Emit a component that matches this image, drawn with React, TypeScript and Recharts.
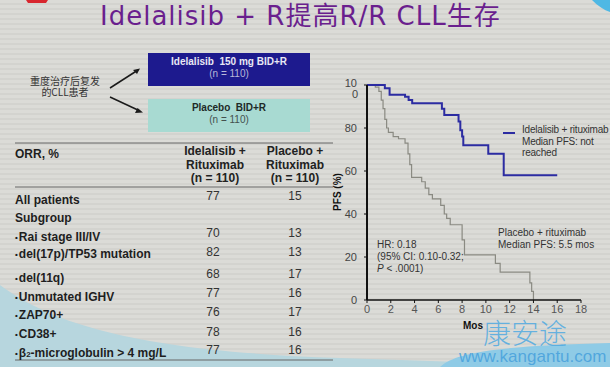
import { LineChart, Line, XAxis, YAxis } from 'recharts'

// Kaplan-Meier PFS
const monthTicks = [0, 2, 4, 6, 8, 10, 12, 14, 16, 18]
const pfsTicks = [0, 20, 40, 60, 80, 100]

const idelaMonths = [0, 1.5, 1.9, 3.2, 3.5, 3.8, 6.3, 6.5, 7.7, 7.85, 8.0, 8.1, 10.2, 11.5, 16]
const idelaPfs = [100, 98.5, 95.5, 94.5, 93, 91.5, 89, 86, 83, 79, 76, 72, 68, 58, 58]

const placeboMonths = [
  0, 0.7, 1.0, 1.2, 1.35, 1.5, 1.65, 1.8, 2.2, 2.65, 3.2, 3.45, 3.6, 3.75, 4.6, 4.9, 5.2, 5.5,
  6.2, 6.5, 6.7, 7.0, 8.0, 8.2, 10.8, 11.2, 13.7, 13.85, 14.0,
]
const placeboPfs = [
  100, 99, 97, 93, 89, 84, 80, 78, 76, 75, 73, 68, 63, 57, 55, 52, 49, 47,
  44, 40, 38, 35, 28, 21, 17, 13, 8, 4, 0,
]

// ORR table
const orrLabels = [
  'All patients',
  'Subgroup',
  'Rai stage III/IV',
  'del(17p)/TP53 mutation',
  'del(11q)',
  'Unmutated IGHV',
  'ZAP70+',
  'CD38+',
  'beta2',
]
const orrIdela = ['77', '', '70', '82', '68', '77', '76', '78', '77']
const orrPlacebo = ['15', '', '13', '13', '17', '16', '17', '16', '16']
const labelY = [200, 218, 237, 254, 278, 297, 315, 334, 353]
const valueY = [196, 0, 233, 252, 274, 293, 312, 332, 350]

const idelaData = idelaMonths.map((m, i) => ({ m, pfs: idelaPfs[i] }))
const placeboData = placeboMonths.map((m, i) => ({ m, pfs: placeboPfs[i] }))

const sans = '"Liberation Sans", Arial, sans-serif'

function YTick({ x, y, payload }: any) {
  if (payload.value === 100) {
    return (
      <text x={x} y={y} textAnchor="end" fontSize={11} fill="#444" fontFamily={sans}>
        <tspan x={x} dy={1.5}>10</tspan>
        <tspan x={x + 1} dy={11}>0</tspan>
      </text>
    )
  }
  return (
    <text x={x} y={y} dy={4} textAnchor="end" fontSize={11} fill="#444" fontFamily={sans}>
      {payload.value}
    </text>
  )
}

function Txt({ x, y, children, style }: any) {
  return (
    <div
      style={{
        position: 'absolute',
        left: x,
        top: y,
        whiteSpace: 'nowrap',
        fontFamily: sans,
        ...style,
      }}
    >
      {children}
    </div>
  )
}

function Centered({ cx, cy, children, style }: any) {
  return (
    <div
      style={{
        position: 'absolute',
        left: cx - 100,
        width: 200,
        top: cy - 8,
        height: 16,
        lineHeight: '16px',
        textAlign: 'center',
        whiteSpace: 'nowrap',
        fontFamily: sans,
        ...style,
      }}
    >
      {children}
    </div>
  )
}

const bullet = <span style={{ fontSize: 8, verticalAlign: 1, marginRight: 1 }}>•</span>

export default function App() {
  return (
    <div
      style={{
        position: 'fixed',
        left: 0,
        top: 0,
        width: 610,
        height: 367,
        overflow: 'hidden',
        background:
          'repeating-linear-gradient(180deg, #dbdbd7 0px, #dbdbd7 3px, #d3d3cf 3px, #d3d3cf 5px)',
      }}
    >
      <svg width={610} height={367} style={{ position: 'absolute', left: 0, top: 0 }}>
        <path d="M0,285 C60,330 160,352 340,358 L460,362 L460,367 L0,367 Z" fill="#b7d6de" />
        <path d="M440,367 C455,352 500,346 610,343 L610,367 Z" fill="#8fcbe6" />
        <path d="M592,0 C598,6 604,10 610,12 L610,0 Z" fill="#4fb8e4" />
        <path d="M26,0 L48,0 L46,3 L28,3 Z" fill="#d8262e" />
        <line x1={110} y1={88} x2={138} y2={70} stroke="#1a1a1a" strokeWidth={1.5} />
        <path d="M140,68.5 L133,70 L137,74 Z" fill="#1a1a1a" />
        <line x1={110} y1={97} x2={140} y2={111} stroke="#1a1a1a" strokeWidth={1.5} />
        <path d="M143,112.5 L135,113 L137.5,108 Z" fill="#1a1a1a" />
        <line x1={15} y1={143} x2={333} y2={143} stroke="#666" strokeWidth={1} />
        <line x1={15} y1={187} x2={333} y2={187} stroke="#666" strokeWidth={1} />
        <line x1={15} y1={360} x2={333} y2={360} stroke="#666" strokeWidth={1} />
      </svg>

      {/* title */}
      <Txt
        x={100}
        y={0}
        style={{
          fontFamily: '"DejaVu Sans", "Noto Sans CJK SC", sans-serif',
          fontSize: 26,
          letterSpacing: 1,
          color: '#6a1f8e',
          lineHeight: '32px',
        }}
      >
        Idelalisib + R提高R/R CLL生存
      </Txt>

      {/* arms */}
      <Txt
        x={28}
        y={76}
        style={{
          fontFamily: '"Noto Sans CJK SC", sans-serif',
          fontSize: 10,
          lineHeight: '10.5px',
          color: '#333',
          textAlign: 'center',
          width: 74,
        }}
      >
        重度治疗后复发
        <br />
        的CLL患者
      </Txt>
      <div
        style={{
          position: 'absolute',
          left: 148,
          top: 53,
          width: 162,
          height: 33,
          background: '#1d1a8e',
        }}
      />
      <Centered cx={229} cy={62} style={{ fontSize: 10, fontWeight: 'bold', color: '#e8e8f4' }}>
        Idelalisib&nbsp; 150 mg BID+R
      </Centered>
      <Centered cx={229} cy={74} style={{ fontSize: 10, color: '#b8b8d8' }}>
        (n = 110)
      </Centered>
      <div
        style={{
          position: 'absolute',
          left: 148,
          top: 99,
          width: 162,
          height: 33,
          background: '#a8dad2',
        }}
      />
      <Centered cx={229} cy={108} style={{ fontSize: 10, fontWeight: 'bold', color: '#1e2a28' }}>
        Placebo&nbsp; BID+R
      </Centered>
      <Centered cx={229} cy={120} style={{ fontSize: 10, color: '#44504e' }}>
        (n = 110)
      </Centered>

      {/* ORR table */}
      <Txt x={15} y={147} style={{ fontSize: 12, fontWeight: 'bold', color: '#1e1e1e' }}>
        ORR, %
      </Txt>
      {['Idelalisib +', 'Rituximab', '(n = 110)'].map((t, i) => (
        <Centered key={t} cx={215} cy={151 + i * 13.7} style={{ fontSize: 12, fontWeight: 'bold', color: '#222' }}>
          {t}
        </Centered>
      ))}
      {['Placebo +', 'Rituximab', '(n = 110)'].map((t, i) => (
        <Centered key={t} cx={295} cy={151 + i * 13.7} style={{ fontSize: 12, fontWeight: 'bold', color: '#222' }}>
          {t}
        </Centered>
      ))}
      {orrLabels.map((lab, i) => (
        <Txt
          key={lab}
          x={15}
          y={labelY[i] - 8}
          style={{ fontSize: 12, fontWeight: 'bold', color: '#1e1e1e', lineHeight: '16px' }}
        >
          {i > 1 ? bullet : null}
          {lab === 'beta2' ? (
            <span>
              β<span style={{ fontSize: 8 }}>2</span>-microglobulin &gt; 4 mg/L
            </span>
          ) : (
            lab
          )}
        </Txt>
      ))}
      {orrIdela.map((v, i) =>
        v ? (
          <Centered key={'a' + i} cx={213} cy={valueY[i]} style={{ fontSize: 12, color: '#333' }}>
            {v}
          </Centered>
        ) : null,
      )}
      {orrPlacebo.map((v, i) =>
        v ? (
          <Centered key={'b' + i} cx={295} cy={valueY[i]} style={{ fontSize: 12, color: '#333' }}>
            {v}
          </Centered>
        ) : null,
      )}

      {/* KM chart */}
      <div style={{ position: 'absolute', left: 330, top: 70 }}>
        <LineChart width={270} height={262} margin={{ top: 15, right: 19, left: 0, bottom: 0 }}>
          <XAxis
            type="number"
            dataKey="m"
            domain={[0, 18]}
            ticks={monthTicks}
            allowDuplicatedCategory={false}
            axisLine={{ stroke: '#111', strokeWidth: 1.5 }}
            tickLine={{ stroke: '#111' }}
            tickSize={3}
            tickMargin={2}
            height={32}
            tick={{ fontSize: 11, fill: '#555', fontFamily: sans }}
          />
          <YAxis
            type="number"
            domain={[0, 100]}
            ticks={pfsTicks}
            width={37}
            axisLine={{ stroke: '#111', strokeWidth: 2 }}
            tickLine={{ stroke: '#111' }}
            tickSize={3}
            tickMargin={7}
            tick={<YTick />}
          />
          <Line
            data={placeboData}
            dataKey="pfs"
            type="stepAfter"
            stroke="#8a8a82"
            strokeWidth={1.2}
            dot={false}
            isAnimationActive={false}
          />
          <Line
            data={idelaData}
            dataKey="pfs"
            type="stepAfter"
            stroke="#2c2ca2"
            strokeWidth={2}
            dot={false}
            isAnimationActive={false}
          />
        </LineChart>
      </div>

      <Txt
        x={318}
        y={186}
        style={{
          fontSize: 10,
          fontWeight: 'bold',
          color: '#111',
          transform: 'rotate(-90deg)',
          width: 40,
          textAlign: 'center',
          lineHeight: '12px',
        }}
      >
        PFS (%)
      </Txt>
      <Txt x={463} y={320} style={{ fontSize: 10, fontWeight: 'bold', color: '#111' }}>
        Mos
      </Txt>

      <div style={{ position: 'absolute', left: 503, top: 132, width: 12, height: 2, background: '#2c2ca2' }} />
      <Txt x={522} y={124} style={{ fontSize: 10, color: '#333', lineHeight: '11.5px', letterSpacing: -0.2 }}>
        Idelalisib + rituximab
        <br />
        Median PFS: not
        <br />
        reached
      </Txt>
      <Txt x={498} y={227} style={{ fontSize: 10, color: '#333', lineHeight: '11.5px' }}>
        Placebo + rituximab
        <br />
        Median PFS: 5.5 mos
      </Txt>
      <Txt x={377} y={239} style={{ fontSize: 10, color: '#333', lineHeight: '12px' }}>
        HR: 0.18
        <br />
        (95% CI: 0.10-0.32;
        <br />
        <i>P</i> &lt; .0001)
      </Txt>

      {/* watermark */}
      <Txt
        x={483}
        y={317}
        style={{
          fontFamily: '"Noto Sans CJK SC", sans-serif',
          fontSize: 28,
          fontWeight: 300,
          color: 'rgba(80,170,225,0.85)',
          lineHeight: '30px',
        }}
      >
        康安途
      </Txt>
      <Txt
        x={459}
        y={347}
        style={{ fontSize: 17, color: 'rgba(70,160,220,0.85)', lineHeight: '19px' }}
      >
        www.kangantu.com
      </Txt>
    </div>
  )
}
